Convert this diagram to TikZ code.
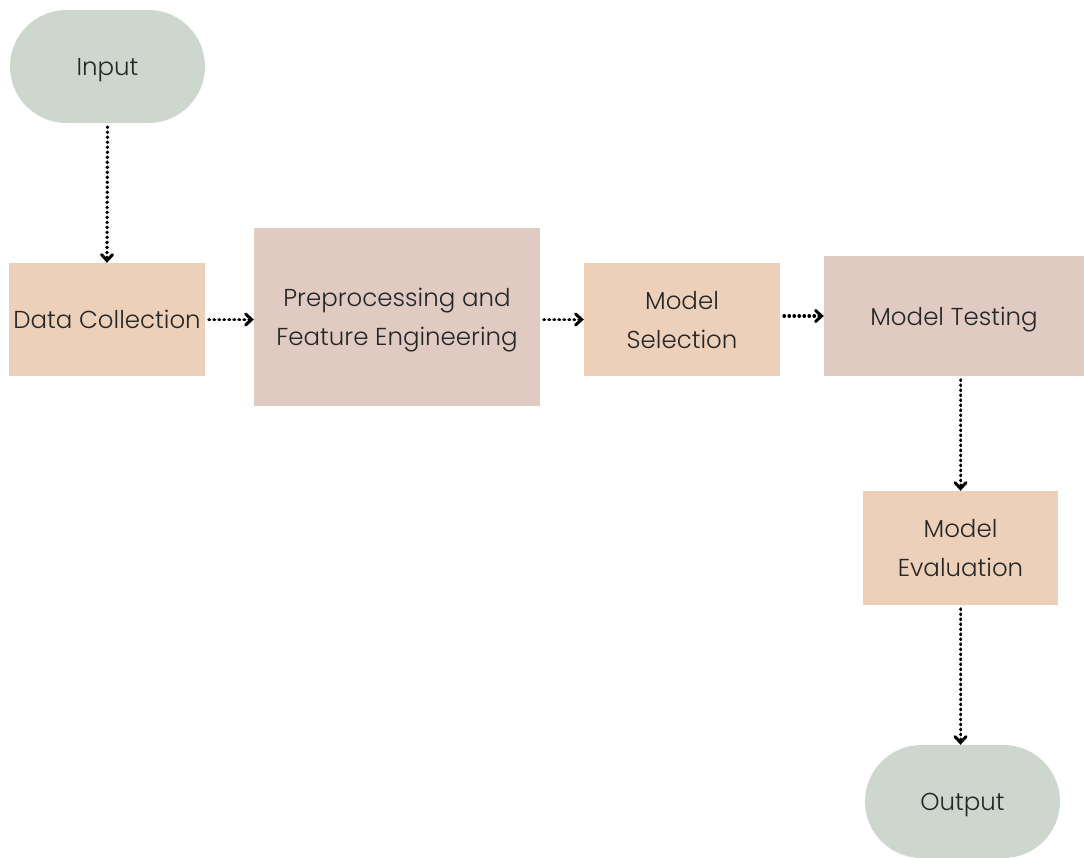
\documentclass[tikz,border=0pt]{standalone}
\usepackage{fontspec}
\setmainfont{Poppins}[UprightFont=* Light]
\usetikzlibrary{arrows.meta,shapes.misc}
\definecolor{sage}{RGB}{205,215,206}
\definecolor{peach}{RGB}{237,208,185}
\definecolor{rose}{RGB}{224,203,195}
\begin{document}
\begin{tikzpicture}[x=1pt,y=-1pt,
  every node/.style={font=\fontsize{24.5}{39}\selectfont, text=black!85, align=center, inner sep=0pt, text depth=0pt},
  term/.style={rounded rectangle, fill=sage, minimum width=#1, minimum height=113pt},
  pbox/.style={fill=peach},
  rbox/.style={fill=rose},
  flow/.style={line width=3.8pt, dash pattern=on 0.01pt off 5pt, line cap=round,
    -{Straight Barb[length=6pt,width=11pt,line width=3pt,line cap=round]}}]
\useasboundingbox (0,0) rectangle (1084,857);
\node[term=195pt] (in) at (107.5,66.5) {Input};
\node[pbox, minimum width=196pt, minimum height=113pt] (dc) at (107,319.5) {Data Collection};
\node[rbox, minimum width=286pt, minimum height=178pt] (pp) at (397,317) {Preprocessing and\\Feature Engineering};
\node[pbox, minimum width=196pt, minimum height=113pt] (ms) at (682,319.5) {Model\\Selection};
\node[rbox, minimum width=260pt, minimum height=120pt] (mt) at (954,316) {Model Testing};
\node[pbox, minimum width=195pt, minimum height=114pt] (me) at (960.5,548) {Model\\Evaluation};
\node[term=195pt] (out) at (962.5,801.5) {Output};
\draw[flow] ([yshift=-4pt]in.south) -- (dc.north);
\draw[flow] ([xshift=4pt]dc.east) -- (pp.west |- dc.east);
\draw[flow] ([xshift=4pt]pp.east |- dc.east) -- (ms.west);
\draw[flow] ([xshift=4pt]ms.east |- mt.west) -- (mt.west);
\draw[flow] ([yshift=-4pt]me.north |- mt.south) -- (me.north);
\draw[flow] ([yshift=-4pt]me.south) -- (out.north -| me.south);
\end{tikzpicture}
\end{document}
